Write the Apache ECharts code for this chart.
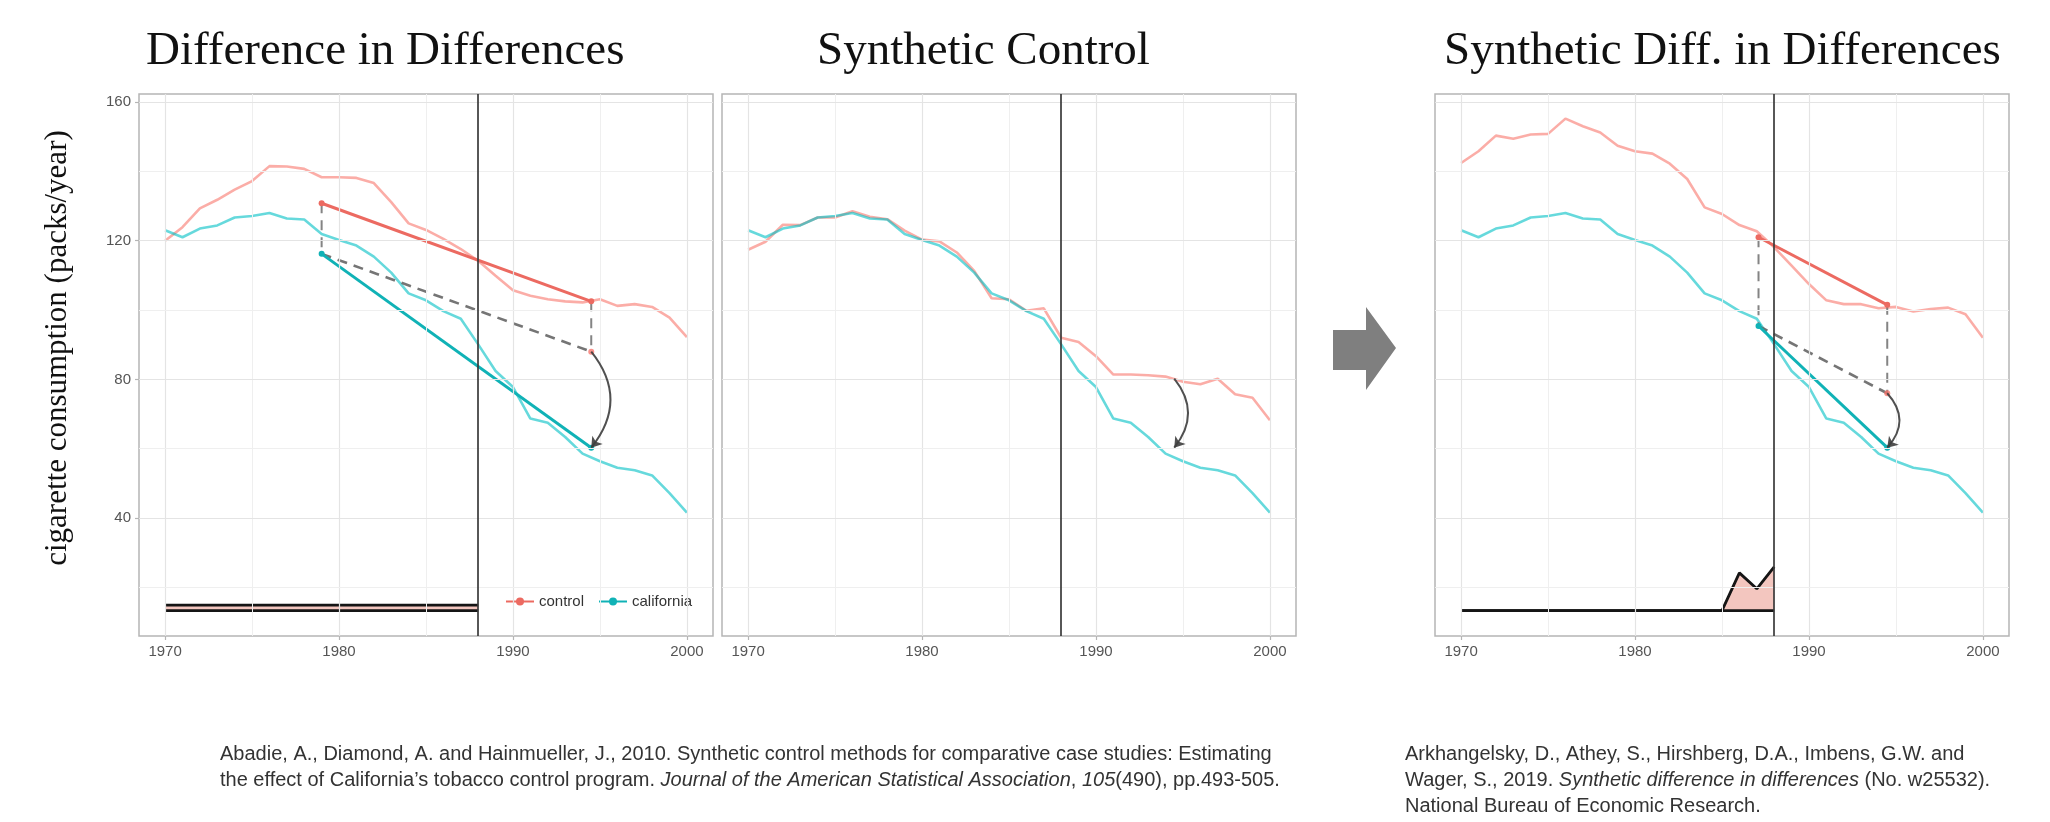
<!DOCTYPE html>
<html>
<head>
<meta charset="utf-8">
<title>DiD / SC / SDID</title>
<script src="https://cdn.jsdelivr.net/npm/echarts@6.0.0/dist/echarts.min.js"></script>
<style>
html, body { margin: 0; padding: 0; background: #fff; }
#chart { width: 2050px; height: 822px; }
</style>
</head>
<body>
<div id="chart"></div>
<script>
// cigarette sales, packs per capita
var years = [1970, 1971, 1972, 1973, 1974, 1975, 1976, 1977, 1978, 1979, 1980,
             1981, 1982, 1983, 1984, 1985, 1986, 1987, 1988, 1989, 1990,
             1991, 1992, 1993, 1994, 1995, 1996, 1997, 1998, 1999, 2000];
var california = [123.0, 121.0, 123.5, 124.4, 126.7, 127.1, 128.0, 126.4, 126.1, 121.9, 120.2,
                  118.6, 115.4, 110.8, 104.8, 102.8, 99.7, 97.5, 90.1, 82.4, 77.8,
                  68.7, 67.5, 63.4, 58.6, 56.4, 54.5, 53.8, 52.3, 47.2, 41.6];
var didControl = [120.0, 123.9, 129.3, 131.8, 134.7, 137.2, 141.5, 141.4, 140.7, 138.3, 138.3,
                  138.1, 136.6, 131.1, 125.0, 123.1, 120.5, 117.6, 114.2, 109.9, 105.7,
                  104.1, 103.1, 102.5, 102.2, 103.1, 101.2, 101.7, 100.9, 97.8, 92.2];
var scControl = [117.4, 119.7, 124.6, 124.5, 126.7, 126.7, 128.5, 126.9, 126.2, 122.9, 120.3,
                 119.8, 116.6, 111.3, 103.4, 103.1, 99.8, 100.5, 92.0, 90.8, 86.7,
                 81.4, 81.4, 81.2, 80.8, 79.3, 78.6, 80.2, 75.7, 74.7, 68.2];
var sdidControl = [142.4, 145.8, 150.3, 149.4, 150.6, 150.8, 155.2, 153.0, 151.2, 147.4, 145.8,
                   145.1, 142.2, 137.8, 129.6, 127.7, 124.5, 122.7, 118.1, 112.8, 107.5,
                   102.8, 101.7, 101.7, 100.5, 100.9, 99.6, 100.3, 100.7, 98.8, 92.0];

// time weights drawn along the bottom (top edge of each band, in axis units)
var weightYears = [1970, 1971, 1972, 1973, 1974, 1975, 1976, 1977, 1978, 1979,
                   1980, 1981, 1982, 1983, 1984, 1985, 1986, 1987, 1988];
var weightBase = [13.3, 13.3, 13.3, 13.3, 13.3, 13.3, 13.3, 13.3, 13.3, 13.3,
                  13.3, 13.3, 13.3, 13.3, 13.3, 13.3, 13.3, 13.3, 13.3];
var didWeightTop = [14.9, 14.9, 14.9, 14.9, 14.9, 14.9, 14.9, 14.9, 14.9, 14.9,
                    14.9, 14.9, 14.9, 14.9, 14.9, 14.9, 14.9, 14.9, 14.9];
var sdidWeightTop = [13.3, 13.3, 13.3, 13.3, 13.3, 13.3, 13.3, 13.3, 13.3, 13.3,
                     13.3, 13.3, 13.3, 13.3, 13.3, 13.3, 24.2, 19.6, 25.9];

var treatYear = 1988;

// pre / post means
var didMeanYears = [1979, 1994.5];
var didMeanControl = [130.8, 102.5];
var didMeanCalifornia = [116.2, 60.3];
var didCounterfactual = [116.2, 88.0];
var scArrow = [80.2, 60.3];
var sdidMeanYears = [1987.1, 1994.5];
var sdidMeanControl = [121.0, 101.5];
var sdidMeanCalifornia = [95.4, 60.3];
var sdidCounterfactual = [95.4, 76.0];

var xTicks = [1970, 1980, 1990, 2000];
var xMinor = [1975, 1985, 1995];
var yTicks = [40, 80, 120, 160];
var yMinor = [20, 60, 100, 140];

var RED = '#F8766D', TEAL = '#00BFC4';
var RED_DARK = '#ec6a61', TEAL_DARK = '#10b2b6';
var SANS = 'Liberation Sans, Arial, sans-serif';
var SERIF = 'Liberation Serif, Times New Roman, serif';

var gridLefts = [139, 722, 1435];
var GRID_TOP = 94, GRID_W = 574, GRID_H = 542;

function pairs(xs, ys) {
    return xs.map(function (x, k) { return [x, ys[k]]; });
}

function gridLinesSeries(i) {
    var d = [];
    xTicks.forEach(function (v) { d.push({ xAxis: v, lineStyle: { color: '#e4e4e4', width: 1.2, type: 'solid' } }); });
    xMinor.forEach(function (v) { d.push({ xAxis: v, lineStyle: { color: '#efefef', width: 1, type: 'solid' } }); });
    yTicks.forEach(function (v) { d.push({ yAxis: v, lineStyle: { color: '#e4e4e4', width: 1.2, type: 'solid' } }); });
    yMinor.forEach(function (v) { d.push({ yAxis: v, lineStyle: { color: '#efefef', width: 1, type: 'solid' } }); });
    return {
        type: 'line', name: 'grid' + i, xAxisIndex: i, yAxisIndex: i,
        data: [[years[0], california[0]]], symbol: 'none',
        lineStyle: { opacity: 0 }, silent: true, z: 1,
        markLine: { silent: true, symbol: ['none', 'none'], label: { show: false }, data: d }
    };
}

function treatSeries(i) {
    return {
        type: 'line', name: 'treat' + i, xAxisIndex: i, yAxisIndex: i,
        data: [[years[0], california[0]]], symbol: 'none',
        lineStyle: { opacity: 0 }, silent: true, z: 6,
        markLine: {
            silent: true, symbol: ['none', 'none'], label: { show: false },
            lineStyle: { color: '#3a3a3a', width: 2, type: 'solid', opacity: 0.85 },
            data: [{ xAxis: treatYear }]
        }
    };
}

function pathSeries(i, name, ys, color) {
    return {
        type: 'line', name: name, xAxisIndex: i, yAxisIndex: i,
        data: pairs(years, ys), symbol: 'none', z: 3,
        lineStyle: { color: color, width: 2.6, opacity: 0.6 }
    };
}

// pink band between base and top, plus its black outline
function weightSeries(i, top) {
    return [{
        type: 'custom', name: 'wband' + i, xAxisIndex: i, yAxisIndex: i, z: 2, silent: true,
        data: pairs(weightYears, top),
        renderItem: function (params, api) {
            if (params.dataIndex !== 0) return;
            var pts = [];
            for (var k = 0; k < weightYears.length; k++) pts.push(api.coord([weightYears[k], top[k]]));
            for (var j = weightYears.length - 1; j >= 0; j--) pts.push(api.coord([weightYears[j], weightBase[j]]));
            return { type: 'polygon', shape: { points: pts }, style: { fill: '#f3c6bf' } };
        }
    }, {
        type: 'line', name: 'wbase' + i, xAxisIndex: i, yAxisIndex: i,
        data: pairs(weightYears, weightBase), symbol: 'none', z: 2,
        lineStyle: { color: '#151515', width: 2.8 }
    }, {
        type: 'line', name: 'wtop' + i, xAxisIndex: i, yAxisIndex: i,
        data: pairs(weightYears, top), symbol: 'none', z: 2,
        lineStyle: { color: '#151515', width: 2.8 }
    }];
}

function segment(i, name, xs, ys, color) {
    return {
        type: 'line', name: name, xAxisIndex: i, yAxisIndex: i,
        data: pairs(xs, ys), symbol: 'circle', symbolSize: 6, showSymbol: true, z: 4,
        lineStyle: { color: color, width: 3 }, itemStyle: { color: color }
    };
}

function dashed(i, xs, ys, color, w) {
    return {
        type: 'line', name: '', xAxisIndex: i, yAxisIndex: i,
        data: pairs(xs, ys), symbol: 'none', z: 4,
        lineStyle: { color: color, width: w, type: [10, 7], opacity: 0.9 }
    };
}

function arrow(i, x, y0, y1, curv) {
    return {
        type: 'lines', coordinateSystem: 'cartesian2d', xAxisIndex: i, yAxisIndex: i,
        z: 7, silent: true, symbol: ['none', 'arrow'], symbolSize: 10,
        lineStyle: { color: '#3d3d3d', width: 2, curveness: curv, opacity: 0.9 },
        data: [{ coords: [[x, y0], [x, y1]] }]
    };
}

function dot(i, x, y, color) {
    return {
        type: 'scatter', name: '', xAxisIndex: i, yAxisIndex: i, z: 5,
        data: [[x, y]], symbolSize: 6, itemStyle: { color: color }
    };
}

var grids = gridLefts.map(function (l) {
    return { left: l, top: GRID_TOP, width: GRID_W, height: GRID_H, show: true,
             borderColor: '#b5b5b5', borderWidth: 1.5, backgroundColor: '#fff' };
});

function plain(v) { return String(v); }

var xAxes = [0, 1, 2].map(function (i) {
    return {
        type: 'value', gridIndex: i, min: 1968.5, max: 2001.5,
        splitLine: { show: false }, axisLine: { show: false },
        axisTick: { show: true, customValues: xTicks, length: 4, lineStyle: { color: '#b5b5b5', width: 1.2 } },
        axisLabel: { customValues: xTicks, formatter: plain, color: '#555', fontSize: 15, fontFamily: SANS, margin: 8 }
    };
});

var yAxes = [0, 1, 2].map(function (i) {
    return {
        type: 'value', gridIndex: i, min: 6, max: 162.3,
        splitLine: { show: false }, axisLine: { show: false },
        axisTick: { show: i === 0, customValues: yTicks, length: 4, lineStyle: { color: '#b5b5b5', width: 1.2 } },
        axisLabel: { show: i === 0, customValues: yTicks, formatter: plain, color: '#555', fontSize: 15, fontFamily: SANS, margin: 8 }
    };
});

var series = [];
[0, 1, 2].forEach(function (i) { series.push(gridLinesSeries(i)); });

// panel 1: difference in differences
series = series.concat(weightSeries(0, didWeightTop));
series.push(pathSeries(0, 'control1', didControl, RED));
series.push(pathSeries(0, 'california1', california, TEAL));
series.push(dashed(0, [didMeanYears[0], didMeanYears[0]], [didMeanControl[0], didMeanCalifornia[0]], '#777', 2));
series.push(dashed(0, [didMeanYears[1], didMeanYears[1]], [didMeanControl[1], didCounterfactual[1]], '#777', 2));
series.push(dashed(0, didMeanYears, didCounterfactual, '#666', 2.6));
series.push(segment(0, 'control', didMeanYears, didMeanControl, RED_DARK));
series.push(segment(0, 'california', didMeanYears, didMeanCalifornia, TEAL_DARK));
series.push(dot(0, didMeanYears[1], didCounterfactual[1], RED));
series.push(arrow(0, didMeanYears[1], didCounterfactual[1], didMeanCalifornia[1], 0.4));

// panel 2: synthetic control
series.push(pathSeries(1, 'control2', scControl, RED));
series.push(pathSeries(1, 'california2', california, TEAL));
series.push(arrow(1, didMeanYears[1], scArrow[0], scArrow[1], 0.4));

// panel 3: synthetic diff. in differences
series = series.concat(weightSeries(2, sdidWeightTop));
series.push(pathSeries(2, 'control3', sdidControl, RED));
series.push(pathSeries(2, 'california3', california, TEAL));
series.push(dashed(2, [sdidMeanYears[0], sdidMeanYears[0]], [sdidMeanControl[0], sdidMeanCalifornia[0]], '#777', 2));
series.push(dashed(2, [sdidMeanYears[1], sdidMeanYears[1]], [sdidMeanControl[1], sdidCounterfactual[1]], '#777', 2));
series.push(dashed(2, sdidMeanYears, sdidCounterfactual, '#666', 2.6));
series.push(segment(2, 'control3m', sdidMeanYears, sdidMeanControl, RED_DARK));
series.push(segment(2, 'california3m', sdidMeanYears, sdidMeanCalifornia, TEAL_DARK));
series.push(dot(2, sdidMeanYears[1], sdidCounterfactual[1], RED));
series.push(arrow(2, sdidMeanYears[1], sdidCounterfactual[1], sdidMeanCalifornia[1], 0.45));

[0, 1, 2].forEach(function (i) { series.push(treatSeries(i)); });

var titleStyle = { fontFamily: SERIF, fontSize: 47, fontWeight: 'normal', color: '#111' };

var option = {
    animation: false,
    backgroundColor: '#fff',
    title: [
        { text: 'Difference in Differences', left: 146, top: 28, padding: 0, textStyle: titleStyle },
        { text: 'Synthetic Control', left: 817, top: 28, padding: 0, textStyle: titleStyle },
        { text: 'Synthetic Diff. in Differences', left: 1444, top: 28, padding: 0, textStyle: titleStyle }
    ],
    legend: {
        data: ['control', 'california'], left: 500, top: 589,
        itemWidth: 28, itemHeight: 10, itemGap: 14, selectedMode: false,
        textStyle: { color: '#333', fontSize: 15, fontFamily: SANS }
    },
    grid: grids,
    xAxis: xAxes,
    yAxis: yAxes,
    series: series,
    graphic: [
        {
            type: 'text', x: 58, y: 348, rotation: Math.PI / 2,
            style: { text: 'cigarette consumption (packs/year)', fill: '#111',
                     font: '31px ' + SERIF, align: 'center', verticalAlign: 'middle' }
        },
        {
            type: 'polygon',
            shape: { points: [[1333, 330], [1366, 330], [1366, 307], [1396, 348], [1366, 390], [1366, 370], [1333, 370]] },
            style: { fill: '#7f7f7f' }
        },
        {
            type: 'text', left: 220, top: 741,
            style: {
                text: '{n|Abadie, A., Diamond, A. and Hainmueller, J., 2010. Synthetic control methods for comparative case studies: Estimating}\n' +
                      '{n|the effect of California\u2019s tobacco control program. }{i|Journal of the American Statistical Association}{n|, }{i|105}{n|(490), pp.493-505.}',
                fill: '#333', font: '20px ' + SANS, lineHeight: 26,
                rich: {
                    n: { fontSize: 20, fontFamily: SANS, fill: '#333', lineHeight: 26 },
                    i: { fontSize: 20, fontFamily: SANS, fontStyle: 'italic', fill: '#333', lineHeight: 26 }
                }
            }
        },
        {
            type: 'text', left: 1405, top: 741,
            style: {
                text: '{n|Arkhangelsky, D., Athey, S., Hirshberg, D.A., Imbens, G.W. and}\n' +
                      '{n|Wager, S., 2019. }{i|Synthetic difference in differences}{n| (No. w25532).}\n' +
                      '{n|National Bureau of Economic Research.}',
                fill: '#333', font: '20px ' + SANS, lineHeight: 26,
                rich: {
                    n: { fontSize: 20, fontFamily: SANS, fill: '#333', lineHeight: 26 },
                    i: { fontSize: 20, fontFamily: SANS, fontStyle: 'italic', fill: '#333', lineHeight: 26 }
                }
            }
        }
    ]
};

var chart = echarts.init(document.getElementById('chart'));
chart.setOption(option);
</script>
</body>
</html>
